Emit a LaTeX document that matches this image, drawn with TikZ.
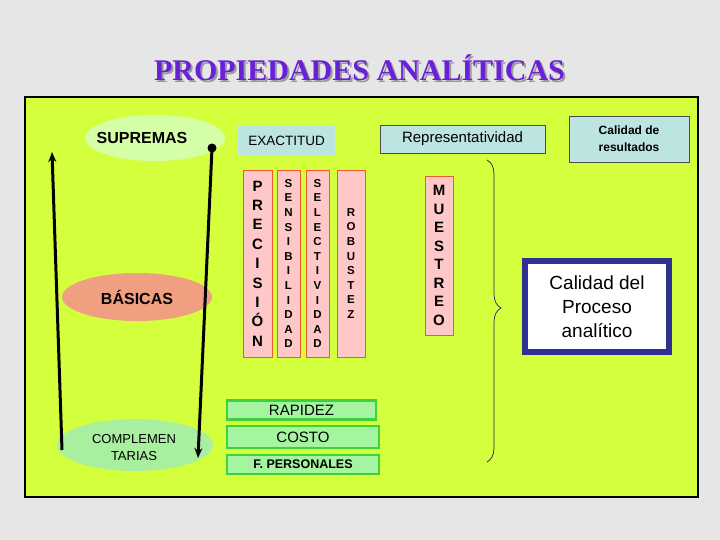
\documentclass[tikz,border=0pt]{standalone}
\usepackage{fontspec}
\setmainfont{Liberation Sans}
\newfontfamily\titlefont{Liberation Serif}
\usetikzlibrary{decorations.pathreplacing,arrows.meta,shapes.geometric}
\definecolor{bg}{HTML}{E6E6E6}
\definecolor{panel}{HTML}{D4FF3C}
\definecolor{lblue}{HTML}{BCE4E0}
\definecolor{pinkf}{HTML}{FFC8C8}
\definecolor{pinkd}{HTML}{F05A28}
\definecolor{gfill}{HTML}{A4F4A0}
\definecolor{gdraw}{HTML}{3CD23C}
\definecolor{navy}{HTML}{2E3190}
\definecolor{purp}{HTML}{6A1FD8}
\tikzset{
 ell/.style={ellipse,inner sep=0pt,align=center},
 pinkbox/.style={draw=pinkd,fill=pinkf,line width=0.8pt,inner sep=0pt,align=center,font=\bfseries\fontsize{11.5}{14.6}\selectfont},
 gbox/.style={draw=gdraw,fill=gfill,line width=2.5pt,inner sep=0pt},
 bbox/.style={fill=lblue,inner sep=0pt,align=center},
}
\begin{document}
\begin{tikzpicture}[x=1pt,y=-1pt]
\useasboundingbox (0,0) rectangle (720,540);
\fill[bg] (0,0) rectangle (720,540);
\node (title) at (361.5,69.5) {\titlefont\bfseries\fontsize{30}{32}\selectfont\color{gray!80}PROPIEDADES ANALÍTICAS};
\node at (359.5,67.5) {\titlefont\bfseries\fontsize{30}{32}\selectfont\color{purp}PROPIEDADES ANALÍTICAS};
\draw[fill=panel,line width=2.5pt] (25,97) rectangle (698,497);
% ellipses
\node[ell,fill=green!30!lime!35,minimum width=140pt,minimum height=46pt] (sup) at (155,138) {};
\node[font=\bfseries\fontsize{16}{18}\selectfont] at (142,138) {SUPREMAS};
\node[ell,fill={rgb,255:red,240;green,160;blue,128},minimum width=150pt,minimum height=48pt] (bas) at (137,297) {};
\node[font=\bfseries\fontsize{16}{18}\selectfont] at (137,297) {BÁSICAS};
\node[ell,fill={rgb,255:red,168;green,240;blue,160},minimum width=156pt,minimum height=52pt] (comp) at (135,445) {};
\node[align=center,font=\fontsize{13}{17}\selectfont] at (134,448) {COMPLEMEN\\TARIAS};
% arrows
\coordinate (a1) at (62,450); \coordinate (a2) at (52,152);
\coordinate (b1) at (212,148); \coordinate (b2) at (198,458);
\draw[line width=3pt,-{Stealth[length=10pt,width=8pt]}] (a1) -- (a2);
\draw[line width=3pt,-{Stealth[length=10pt,width=8pt]}] (b1) -- (b2);
\fill (b1) circle (4.5pt);
% blue boxes
\node[bbox,minimum width=97pt,minimum height=29pt,font=\fontsize{13.5}{15}\selectfont] (ex) at (286.5,140.5) {EXACTITUD};
\node[bbox,draw=black!70,line width=0.8pt,minimum width=165pt,minimum height=28pt,font=\fontsize{15}{17}\selectfont] (rep) at (462.5,139) {Representatividad};
\node[bbox,draw=black!70,line width=0.8pt,minimum width=120pt,minimum height=46pt,font=\bfseries\fontsize{12}{17}\selectfont] (cal) at (629,139) {Calidad de\\resultados};
% pink boxes
\node[pinkbox,minimum width=29pt,minimum height=187pt,font=\bfseries\fontsize{15}{19.4}\selectfont] (pre) at (257.5,263.5) {P\\R\\E\\C\\I\\S\\I\\Ó\\N};
\node[pinkbox,minimum width=23pt,minimum height=187pt] (sen) at (288.5,263.5) {S\\E\\N\\S\\I\\B\\I\\L\\I\\D\\A\\D};
\node[pinkbox,minimum width=23pt,minimum height=187pt] (sel) at (317.5,263.5) {S\\E\\L\\E\\C\\T\\I\\V\\I\\D\\A\\D};
\node[pinkbox,minimum width=28pt,minimum height=187pt] (rob) at (351,263.5) {\vphantom{X}\\R\\O\\B\\U\\S\\T\\E\\Z\\\vphantom{X}};
\node[pinkbox,minimum width=28pt,minimum height=159pt,font=\bfseries\fontsize{15}{18.5}\selectfont] (mue) at (439,255.5) {M\\U\\E\\S\\T\\R\\E\\O};
% brace
\coordinate (br1) at (487,160); \coordinate (br2) at (487,462);
\draw[navy!70!black,line width=0.7pt,decorate,decoration={brace,amplitude=14pt,aspect=0.49}] (br1) -- (br2);
% calidad del proceso
\node[draw=navy,line width=6pt,fill=white,minimum width=144pt,minimum height=91pt,align=center,font=\fontsize{19}{24}\selectfont] (cp) at (597,306.5) {Calidad del\\Proceso\\analítico};
% green boxes
\node[gbox,minimum width=149pt,minimum height=19pt,font=\fontsize{15}{17}\selectfont] (rap) at (301.5,410) {\raisebox{-3pt}{RAPIDEZ}};
\node[gbox,minimum width=152pt,minimum height=22pt,font=\fontsize{15}{17}\selectfont] (cos) at (303,437) {COSTO};
\node[gbox,minimum width=152pt,minimum height=19pt,font=\bfseries\fontsize{12.5}{14}\selectfont] (fp) at (303,464.5) {F. PERSONALES};
\end{tikzpicture}
\end{document}
